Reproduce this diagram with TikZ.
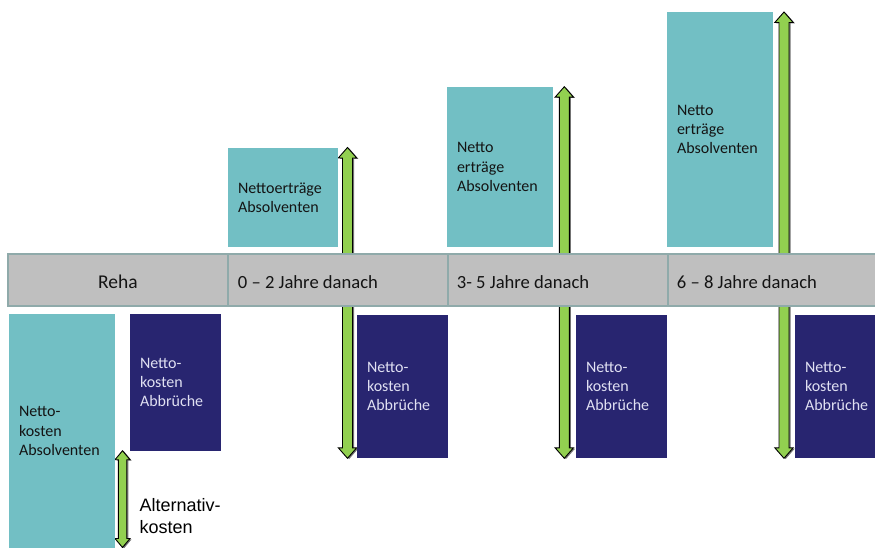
\documentclass[tikz,border=0pt]{standalone}
\usepackage{fontspec}
\setmainfont{Carlito}
\newfontfamily\labelsans{Liberation Sans}
\definecolor{tealbox}{RGB}{114,191,196}
\definecolor{navybox}{RGB}{40,37,112}
\definecolor{navytext}{RGB}{224,224,242}
\definecolor{barfill}{RGB}{191,191,191}
\definecolor{barline}{RGB}{143,170,170}
\definecolor{arrowgreen}{RGB}{146,208,80}
% vertical block arrow with heads at both ends:
% centre x, top tip y, bottom tip y, half shaft width, half head width, head length
\newcommand\dblarrowpath[6]{(#1,#2) -- (#1+#5,#2+#6) -- (#1+#4,#2+#6) -- (#1+#4,#3-#6) -- (#1+#5,#3-#6) -- (#1,#3) -- (#1-#5,#3-#6) -- (#1-#4,#3-#6) -- (#1-#4,#2+#6) -- (#1-#5,#2+#6) -- cycle}
\newcommand\dblarrow[6]{%
  \fill[arrowshade, shift={(1.6,0.8)}] \dblarrowpath{#1}{#2}{#3}{#4}{#5}{#6};
  \draw[arrowbody] \dblarrowpath{#1}{#2}{#3}{#4}{#5}{#6};}
\begin{document}
\begin{tikzpicture}[x=1pt,y=-1pt,
  box/.style={rectangle, anchor=north west, outer sep=0pt, inner xsep=10pt,
    inner ysep=0pt, align=left, font=\fontsize{16}{19.4}\selectfont},
  gainbox/.style={box, fill=tealbox, text=black!92},
  lossbox/.style={box, fill=navybox, text=navytext},
  cell/.style={rectangle, anchor=north west, outer sep=0pt, fill=barfill,
    draw=barline, line width=2.5pt, minimum height=52pt},
  celltext/.style={inner sep=0pt, font=\fontsize{18.6}{22}\selectfont, text=black!92},
  arrowbody/.style={fill=arrowgreen, draw=black, line width=0.9pt, line join=miter},
  arrowshade/.style={fill=black!55},
  note/.style={anchor=base west, inner sep=0pt, align=left,
    font=\labelsans\fontsize{18}{21.6}\selectfont, text=black}]
\clip (0,0) rectangle (875,548);
\fill[white] (0,0) rectangle (875,548);

% green arrows running through the time line
\dblarrow{347.5}{147.5}{458.3}{5}{9.2}{10.5}
\dblarrow{564.3}{86.7}{458.3}{5}{9.2}{10.5}
\dblarrow{784.0}{12}{458.3}{5}{9.2}{10.5}
\dblarrow{122.5}{450.7}{547.5}{4.2}{7.5}{9}

% time line
\node[cell, minimum width=220pt] (c0) at (8,254) {};
\node[cell, minimum width=220pt] (c1) at (228,254) {};
\node[cell, minimum width=220pt] (c2) at (448,254) {};
\node[cell, minimum width=220pt] (c3) at (668,254) {};
\node[celltext, anchor=base, font=\fontsize{19.5}{22}\selectfont] (t0) at (118,288.3) {Reha};
\node[celltext, anchor=base west] (t1) at (237.7,288.3) {0 – 2 Jahre danach};
\node[celltext, anchor=base west] (t2) at (456.7,288.3) {3- 5 Jahre danach};
\node[celltext, anchor=base west] (t3) at (676.7,288.3) {6 – 8 Jahre danach};

% returns of graduates (above the line)
\node[gainbox, minimum width=110pt, text width=90pt, minimum height=99pt] (g1) at (228,148) {Nettoerträge\\Absolventen};
\node[gainbox, minimum width=106pt, text width=86pt, minimum height=160pt] (g2) at (447,87) {Netto\\erträge\\Absolventen};
\node[gainbox, minimum width=106pt, text width=86pt, minimum height=235pt] (g3) at (667,12) {Netto\\erträge\\Absolventen};

% costs (below the line)
\node[gainbox, minimum width=106pt, text width=86pt, minimum height=234pt] (g0) at (9,314) {Netto-\\kosten\\Absolventen};
\node[lossbox, minimum width=91pt, text width=71pt, minimum height=137pt] (l0) at (130,314) {Netto-\\kosten\\Abbrüche};
\node[lossbox, minimum width=91pt, text width=71pt, minimum height=143pt] (l1) at (357,315) {Netto-\\kosten\\Abbrüche};
\node[lossbox, minimum width=91pt, text width=71pt, minimum height=143pt] (l2) at (576,315) {Netto-\\kosten\\Abbrüche};
\node[lossbox, minimum width=91pt, text width=71pt, minimum height=143pt] (l3) at (795,315) {Netto-\\kosten\\Abbrüche};

% base of a multi-line node sits on its last line
\node[note] (alt) at (139.3,533) {Alternativ-\\kosten};
\end{tikzpicture}
\end{document}
